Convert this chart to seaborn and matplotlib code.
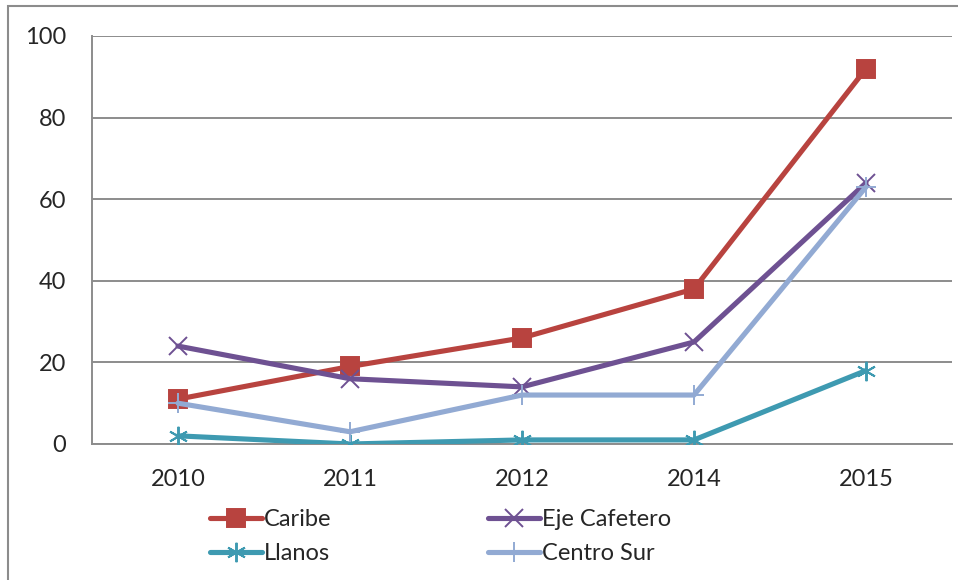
import numpy as np
import pandas as pd
import seaborn as sns
import matplotlib.pyplot as plt
from matplotlib.patches import Rectangle

years = ['2010', '2011', '2012', '2014', '2015']
caribe = [11, 19, 26, 38, 92]
eje_cafetero = [24, 16, 14, 25, 64]
llanos = [2, 0, 1, 1, 18]
centro_sur = [10, 3, 12, 12, 63]

series_names = ['Caribe', 'Llanos', 'Eje Cafetero', 'Centro Sur']
series_values = [caribe, llanos, eje_cafetero, centro_sur]
series_colors = ['#B8433F', '#3E9AB1', '#6E5192', '#92AAD3']
series_markers = ['s', (6, 2, 0), 'x', '+']
marker_sizes = [13, 14, 13, 14]

df = pd.DataFrame({
    'year': np.tile(np.arange(len(years)), len(series_names)),
    'value': np.concatenate(series_values),
    'serie': np.repeat(series_names, len(years)),
})

sns.set_style('white')
plt.rcParams['font.family'] = ['Lato', 'DejaVu Sans']

fig = plt.figure(figsize=(9.58, 5.8), dpi=100)
ax = fig.add_axes([92 / 958, 1 - 444 / 580, (952 - 92) / 958, (444 - 36) / 580])

# outer chart frame
fig.patches.append(Rectangle((8 / 958, -0.1), 1.2, 1 - 6 / 580 + 0.1, transform=fig.transFigure,
                             fill=False, edgecolor='#8C8C8C', linewidth=1.5))

for name, col, mk, ms in zip(series_names, series_colors, series_markers, marker_sizes):
    sub = df[df['serie'] == name]
    sns.lineplot(data=sub, x='year', y='value', ax=ax, color=col, linewidth=3.7,
                 marker=mk, markersize=ms, markeredgecolor=col, markeredgewidth=1.4,
                 label=name, zorder=3)

ax.set_xlim(-0.5, len(years) - 0.5)
ax.set_ylim(0, 100)
ax.set_yticks(range(0, 101, 20))
ax.set_xticks(range(len(years)))
ax.set_xticklabels(years)
ax.set_xticks(np.arange(-0.5, len(years)), minor=True)
ax.tick_params(axis='x', which='major', length=0, pad=18, labelsize=17)
ax.tick_params(axis='x', which='minor', length=6.5, width=1.3, color='#8C8C8C', direction='out')
ax.tick_params(axis='y', length=6.5, width=1.3, color='#8C8C8C', direction='out', pad=12, labelsize=17)
ax.grid(axis='y', color='#8C8C8C', linewidth=1.4)
ax.set_xlabel('')
ax.set_ylabel('')
for side in ['top', 'right']:
    ax.spines[side].set_visible(False)
for side in ['left', 'bottom']:
    ax.spines[side].set_color('#8C8C8C')
    ax.spines[side].set_linewidth(1.4)

handles, labels = ax.get_legend_handles_labels()
ax.legend(handles, labels, ncol=2, frameon=False, fontsize=17,
          loc='upper left', bbox_to_anchor=(210 / 958, 1 - 509 / 580),
          bbox_transform=fig.transFigure, handlelength=2.2, handletextpad=0.1,
          columnspacing=6.6, labelspacing=0.55, borderaxespad=0, borderpad=0)

fig.savefig('out.png', dpi=100)
